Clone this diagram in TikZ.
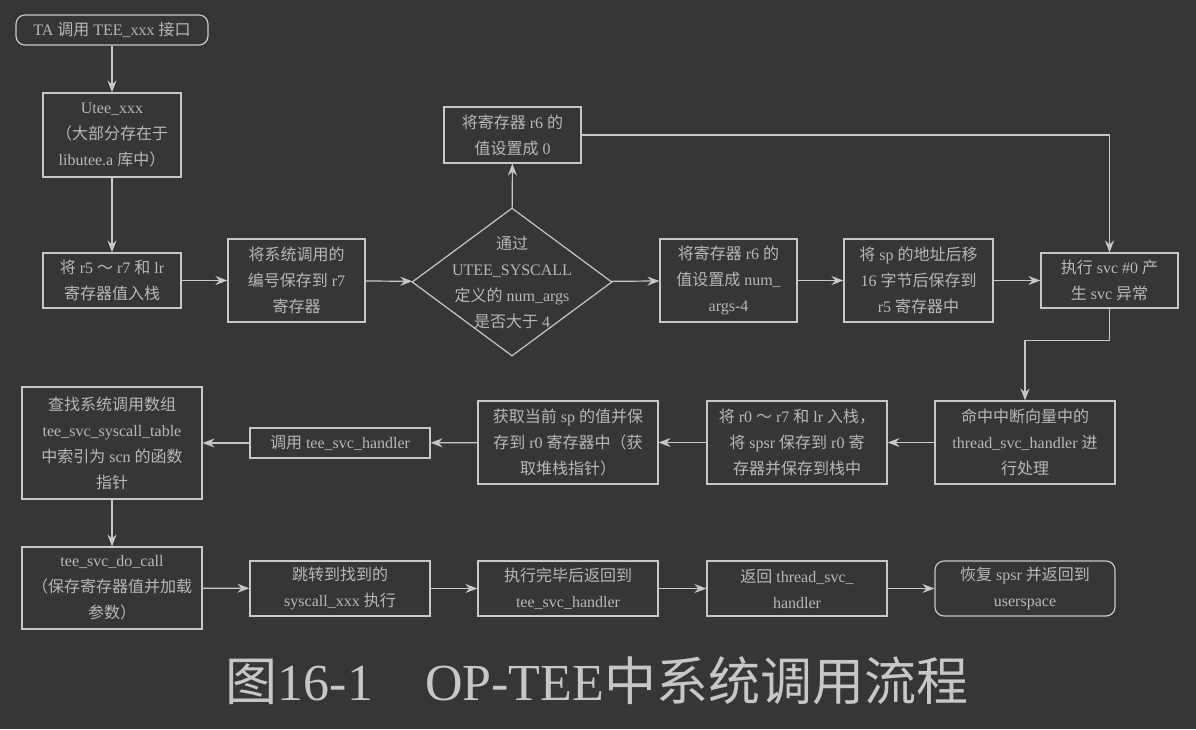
\documentclass[tikz,border=0pt]{standalone}
\usepackage{fontspec}
\setmainfont{Liberation Serif}
\newfontfamily\cjkfont{Noto Sans CJK SC}
\usepackage{tikz}
\usetikzlibrary{arrows.meta,shapes.geometric}
% Chinese characters switch to the CJK font by themselves
\XeTeXinterchartokenstate=1
\newXeTeXintercharclass\scHanClass
\newcount\scHanCode
\scHanCode="4E00
\loop
  \XeTeXcharclass\scHanCode=\scHanClass
  \advance\scHanCode by 1
\ifnum\scHanCode<"A000 \repeat
\XeTeXcharclass"3000=\scHanClass
\XeTeXcharclass"FF08=\scHanClass
\XeTeXcharclass"FF09=\scHanClass
\XeTeXcharclass"FF0C=\scHanClass
\XeTeXcharclass"FF5E=\scHanClass
\XeTeXinterchartoks 0 \scHanClass={\begingroup\cjkfont}
\XeTeXinterchartoks 4095 \scHanClass={\begingroup\cjkfont}
\XeTeXinterchartoks \scHanClass 0={\endgroup}
\XeTeXinterchartoks \scHanClass 4095={\endgroup}
\newcommand{\scBack}{black!79}
\newcommand{\scLine}{black!22}
\newcommand{\scText}{black!28}
\tikzset{
  scbox/.style={rectangle, draw=\scLine, line width=1.2pt, text=\scText,
                align=center, inner sep=2pt, font=\fontsize{16}{26}\selectfont},
  scterm/.style={scbox, rounded corners=9pt},
  scdec/.style={diamond, draw=\scLine, line width=1.2pt, inner sep=0pt,
                minimum width=200pt, minimum height=148pt},
  scdectext/.style={align=center, text=\scText, font=\fontsize{16}{26}\selectfont},
  scarr/.style={draw=\scLine, line width=1.2pt,
                -{Stealth[length=12pt, width=9pt, inset=4pt]}},
  sccap/.style={text=\scLine, font=\fontsize{52}{60}\selectfont},
}

\begin{document}
\begin{tikzpicture}[x=1pt, y=-1pt]
  \fill[\scBack] (0,0) rectangle (1196,729);
  \useasboundingbox (0,0) rectangle (1196,729);
  % left column, going down
  \node[scterm, minimum width=192pt, minimum height=30pt] (start) at (112,30) {TA 调用 TEE\_xxx 接口};
  \node[scbox, minimum width=138pt, minimum height=84pt] (utee) at (112,135) {Utee\_xxx\\（大部分存在于\\libutee.a 库中）};
  \node[scbox, minimum width=138pt, minimum height=55pt] (push) at (112,280.5) {将 r5 ～ r7 和 lr\\寄存器值入栈};
  % first row
  \node[scbox, minimum width=137pt, minimum height=83pt] (sysnum) at (296.5,280.5) {将系统调用的\\编号保存到 r7\\寄存器};
  \node[scdec, label={[scdectext]center:{通过\\UTEE\_SYSCALL\\定义的 num\_args\\是否大于 4}}] (dec) at (512,282) {};
  \node[scbox, minimum width=137pt, minimum height=56pt] (r6zero) at (512.5,135) {将寄存器 r6 的\\值设置成 0};
  \node[scbox, minimum width=137pt, minimum height=83pt] (r6arg) at (728.5,280.5) {将寄存器 r6 的\\值设置成 num\_\\args-4};
  \node[scbox, minimum width=149pt, minimum height=83pt] (spmove) at (918.5,280.5) {将 sp 的地址后移\\16 字节后保存到\\r5 寄存器中};
  \node[scbox, minimum width=137pt, minimum height=55pt] (svc) at (1109.5,280.5) {执行 svc \#0 产\\生 svc 异常};
  % second row, right to left
  \node[scbox, minimum width=180pt, minimum height=83pt] (handler) at (1025,442.5) {命中中断向量中的\\thread\_svc\_handler 进\\行处理};
  \node[scbox, minimum width=180pt, minimum height=83pt] (pushall) at (797,442.5) {将 r0 ～ r7 和 lr 入栈，\\将 spsr 保存到 r0 寄\\存器并保存到栈中};
  \node[scbox, minimum width=180pt, minimum height=83pt] (getsp) at (568,442.5) {获取当前 sp 的值并保\\存到 r0 寄存器中（获\\取堆栈指针）};
  \node[scbox, minimum width=180pt, minimum height=30pt] (callh) at (340,443) {调用 tee\_svc\_handler};
  \node[scbox, minimum width=180pt, minimum height=112pt] (lookup) at (112,443) {查找系统调用数组\\tee\_svc\_syscall\_table\\中索引为 scn 的函数\\指针};
  % third row
  \node[scbox, minimum width=180pt, minimum height=82pt] (docall) at (112,588) {tee\_svc\_do\_call\\（保存寄存器值并加载\\参数）};
  \node[scbox, minimum width=180pt, minimum height=55pt] (jump) at (340,588.5) {跳转到找到的\\syscall\_xxx 执行};
  \node[scbox, minimum width=180pt, minimum height=55pt] (done) at (568,588.5) {执行完毕后返回到\\tee\_svc\_handler};
  \node[scbox, minimum width=180pt, minimum height=55pt] (retth) at (797,588.5) {返回 thread\_svc\_\\handler};
  \node[scterm, minimum width=180pt, minimum height=55pt] (restore) at (1025,588.5) {恢复 spsr 并返回到\\userspace};
  \node[sccap] (cap) at (597,681) {图16-1　OP-TEE中系统调用流程};

  \draw[scarr] (start) -- (utee);
  \draw[scarr] (utee) -- (push);
  \draw[scarr] (push) -- (sysnum);
  \draw[scarr] (sysnum) -- (dec);
  \draw[scarr] (dec) -- (r6zero);
  \draw[scarr] (dec) -- (r6arg);
  \draw[scarr] (r6arg) -- (spmove);
  \draw[scarr] (spmove) -- (svc);
  \draw[scarr] (r6zero.east) -| (svc.north);
  \draw[scarr] (svc.south) -- ++(0,32) -| (handler.north);
  \draw[scarr] (handler) -- (pushall);
  \draw[scarr] (pushall) -- (getsp);
  \draw[scarr] (getsp) -- (callh);
  \draw[scarr] (callh) -- (lookup);
  \draw[scarr] (lookup) -- (docall);
  \draw[scarr] (docall) -- (jump);
  \draw[scarr] (jump) -- (done);
  \draw[scarr] (done) -- (retth);
  \draw[scarr] (retth) -- (restore);
\end{tikzpicture}
\end{document}
